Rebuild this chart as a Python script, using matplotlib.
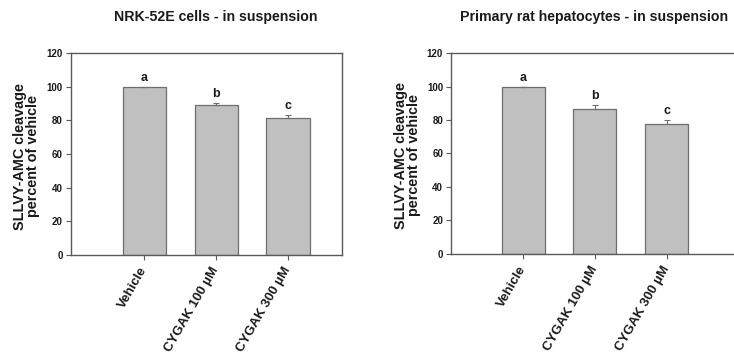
import matplotlib
matplotlib.use("Agg")
import matplotlib.pyplot as plt
import numpy as np

plt.rcParams['font.family'] = ['Liberation Sans', 'DejaVu Sans']
plt.rcParams['font.weight'] = 'bold'

categories = ["Vehicle", "CYGAK 100 \u00b5M", "CYGAK 300 \u00b5M"]
nrk_values = [100.0, 89.3, 81.6]
nrk_errors = [0.0, 0.8, 1.5]
hep_values = [100.0, 86.7, 77.8]
hep_errors = [0.0, 2.3, 2.1]
sig_letters = ["a", "b", "c"]
titles = ["NRK-52E cells - in suspension", "Primary rat hepatocytes - in suspension"]
ylabel = "SLLVY-AMC cleavage\npercent of vehicle"
yticks = [0, 20, 40, 60, 80, 100, 120]

fig = plt.figure(figsize=(7.34, 3.6), dpi=100)
spine_c = "#5a5a5a"
bar_c = "#c0c0c0"
edge_c = "#6e6e6e"
text_c = "#1a1a1a"

specs = [
    dict(rect=[0.0967, 0.2917, 0.3692, 0.5611], vals=nrk_values, errs=nrk_errors,
         xlim=(-1.02, 2.75), labx=-0.113, title_x=0.294),
    dict(rect=[0.6150, 0.2953, 0.3940, 0.5567], vals=hep_values, errs=hep_errors,
         xlim=(-1.0, 3.03), labx=-0.105, title_x=0.810),
]

for i, s in enumerate(specs):
    ax = fig.add_axes(s["rect"])
    x = np.arange(len(categories))
    ax.bar(x, s["vals"], width=0.6, color=bar_c, edgecolor=edge_c, linewidth=0.9, zorder=2)
    ax.errorbar(x, s["vals"], yerr=[np.zeros(3), s["errs"]], fmt="none",
                ecolor=edge_c, elinewidth=0.8, capsize=2.5, capthick=0.8, zorder=3)
    for xi, v, e, l in zip(x, s["vals"], s["errs"], sig_letters):
        ax.text(xi, v + e + 1.8, l, ha="center", va="bottom", fontsize=9,
                fontweight="bold", color=text_c)
    ax.set_xlim(*s["xlim"])
    ax.set_ylim(0, 120)
    ax.set_yticks(yticks)
    ax.set_yticklabels([str(t) for t in yticks], fontsize=7, fontweight="bold", color=text_c)
    ax.set_xticks(x)
    ax.set_xticklabels(categories, rotation=60, ha="right", va="center",
                       rotation_mode="anchor", fontsize=9.5, fontweight="bold", color=text_c)
    ax.tick_params(axis="both", direction="out", length=3.5, width=0.8, color=spine_c, pad=2.5)
    ax.tick_params(axis="x", pad=6)
    for sp in ax.spines.values():
        sp.set_color(spine_c)
        sp.set_linewidth(1.0)
    ax.set_ylabel(ylabel, fontsize=10.4, fontweight="bold", color=text_c, linespacing=0.9)
    ax.yaxis.set_label_coords(s["labx"], 0.49)
    fig.text(s["title_x"], 0.953, titles[i], ha="center", va="center", fontsize=10.2,
             fontweight="bold", color=text_c)

fig.savefig("out.png", dpi=100)
